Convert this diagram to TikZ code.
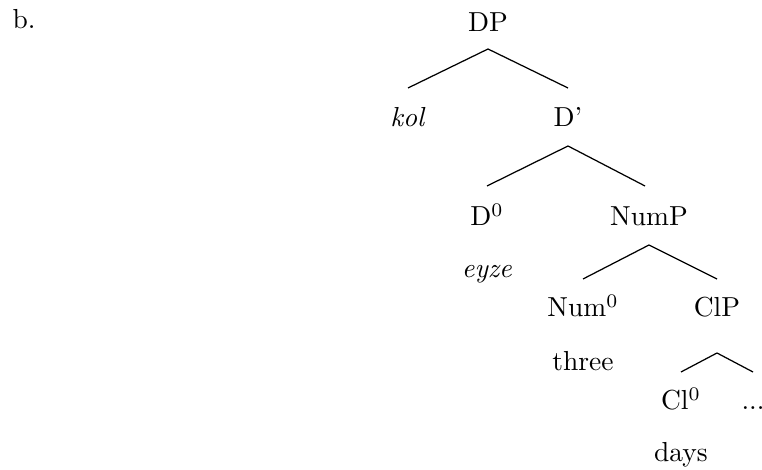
\documentclass[tikz,border=0pt]{standalone}
\usetikzlibrary{calc}
\begin{document}
\begin{tikzpicture}[x=0.3636pt,y=-0.3636pt,
  lab/.style={anchor=base,inner sep=0pt,outer sep=0pt},
  edge/.style={draw=black,line width=0.45pt}]
\useasboundingbox (0,0) rectangle (762,470);
\node[lab] (b) at (24,29) {b.};
\node[lab] (DP) at (488,32) {DP};
\node[lab] (kol) at (408,127) {\textit{kol}};
\node[lab] (Dbar) at (568,127) {D'};
\node[lab] (D0) at (487,226) {D$^0$};
\node[lab] (NumP) at (649,226) {NumP};
\node[lab] (eyze) at (487,278) {\textit{eyze}};
\node[lab] (Num0) at (583,317) {Num$^0$};
\node[lab] (ClP) at (717,317) {ClP};
\node[lab] (three) at (583,371) {three};
\node[lab] (Cl0) at (681,410) {Cl$^0$};
\node[lab] (dots) at (753,410) {...};
\node[lab] (days) at (681,462) {days};
\draw[edge] ($(DP.base)+(0,17)$) -- ($(kol.base)+(0,-39)$);
\draw[edge] ($(DP.base)+(0,17)$) -- ($(Dbar.base)+(0,-39)$);
\draw[edge] ($(Dbar.base)+(0,19)$) -- ($(D0.base)+(0,-40)$);
\draw[edge] ($(Dbar.base)+(0,19)$) -- ($(NumP.base)+(-4,-40)$);
\draw[edge] ($(NumP.base)+(0,19)$) -- ($(Num0.base)+(0,-38)$);
\draw[edge] ($(NumP.base)+(0,19)$) -- ($(ClP.base)+(0,-38)$);
\draw[edge] ($(ClP.base)+(0,36)$) -- ($(Cl0.base)+(0,-38)$);
\draw[edge] ($(ClP.base)+(0,36)$) -- ($(dots.base)+(0,-38)$);
\end{tikzpicture}
\end{document}
